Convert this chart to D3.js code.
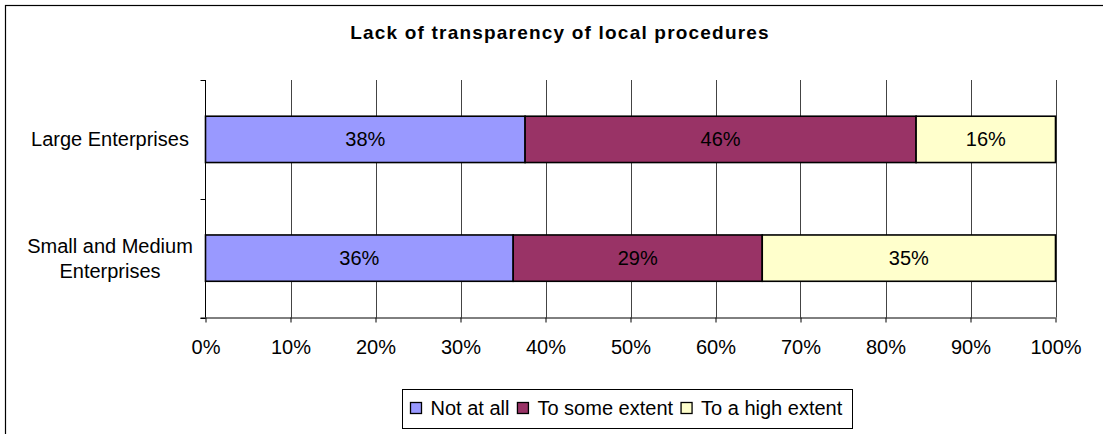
<!DOCTYPE html>
<html><head><meta charset="utf-8">
<script src="https://cdn.jsdelivr.net/npm/d3@7"></script>
<style>body{margin:0;background:#fff}svg{display:block;font-family:"Liberation Sans",Arial,sans-serif}</style>
</head><body><svg id="c" width="1103" height="434"></svg>
<script>
const categories = ["Large Enterprises", "Small and Medium Enterprises"];
const categoryLines = [["Large Enterprises"], ["Small and Medium", "Enterprises"]];
const seriesNames = ["Not at all", "To some extent", "To a high extent"];
const notAtAll = [37.6, 36.2];
const toSomeExtent = [46.0, 29.3];
const toAHighExtent = [16.4, 34.5];
const tickValues = [0,10,20,30,40,50,60,70,80,90,100];
const colors = ["#9999FF", "#993366", "#FFFFCC"];
const title = "Lack of transparency of local procedures";
const FS = 20;

const svg = d3.select("#c");
svg.append("rect").attr("x",5.5).attr("y",5.5).attr("width",1110).attr("height",440)
  .attr("fill","none").attr("stroke","#000").attr("stroke-width",1.2);

svg.append("text").attr("x",560).attr("y",39).attr("text-anchor","middle")
  .attr("font-weight","bold").attr("font-size",19).attr("letter-spacing",1.2).text(title);

const L=205.5, R=1055.5, T=80, B=317.5;
const x = d3.scaleLinear().domain([0,100]).range([L,R]);
const y = d3.scaleBand().domain(categories).range([T,B]).paddingInner(0.61).paddingOuter(0.305);

// gridlines
svg.append("g").selectAll("line").data(tickValues.slice(1)).join("line")
  .attr("x1",d=>Math.round(x(d))+0.5).attr("x2",d=>Math.round(x(d))+0.5)
  .attr("y1",T).attr("y2",B).attr("stroke","#444").attr("stroke-width",1);

const series = [notAtAll, toSomeExtent, toAHighExtent];
const stackData = categories.map((c,i)=>{const o={cat:c}; seriesNames.forEach((s,j)=>o[s]=series[j][i]); return o;});
const stacked = d3.stack().keys(seriesNames)(stackData);

const g = svg.append("g");
stacked.forEach((layer,j)=>{
  g.selectAll(null).data(layer).join("rect")
    .attr("x",d=>x(d[0])).attr("width",d=>x(d[1])-x(d[0]))
    .attr("y",d=>y(d.data.cat)).attr("height",y.bandwidth())
    .attr("fill",colors[j]).attr("stroke","#000").attr("stroke-width",1.6);
  g.selectAll(null).data(layer).join("text")
    .attr("x",d=>(x(d[0])+x(d[1]))/2).attr("y",d=>y(d.data.cat)+y.bandwidth()/2+7)
    .attr("text-anchor","middle").attr("font-size",FS).attr("fill","#000")
    .text(d=>Math.round(d[1]-d[0])+"%");
});

// x axis
const xa = svg.append("g").attr("transform",`translate(0,${B})`)
  .call(d3.axisBottom(x).tickValues(tickValues).tickFormat(d=>d+"%").tickSize(5).tickPadding(17));
xa.select(".domain").attr("d",`M${L-5},0.5H${R}`).attr("stroke","#000");
xa.selectAll(".tick line").attr("stroke","#000");
xa.selectAll("text").attr("font-size",FS).attr("fill","#000").attr("font-family","Liberation Sans, Arial, sans-serif");

// y axis
svg.append("line").attr("x1",L).attr("x2",L).attr("y1",T).attr("y2",B).attr("stroke","#000");
[T, (T+B)/2, B].forEach(v=>svg.append("line").attr("x1",L-5).attr("x2",L).attr("y1",Math.round(v)+0.5).attr("y2",Math.round(v)+0.5).attr("stroke","#000"));

categories.forEach((c,i)=>{
  const lines = categoryLines[i];
  const cy = y(c)+y.bandwidth()/2;
  const lh = 25;
  lines.forEach((t,k)=>{
    svg.append("text").attr("x",110).attr("y",cy + (k-(lines.length-1)/2)*lh + 7)
      .attr("text-anchor","middle").attr("font-size",FS).text(t);
  });
});

// legend
const lg = svg.append("g");
lg.append("rect").attr("x",402.5).attr("y",389.5).attr("width",450).attr("height",39)
  .attr("fill","#fff").attr("stroke","#000");
let lx = 410.5;
seriesNames.forEach((s,j)=>{
  lg.append("rect").attr("x",lx).attr("y",402.5).attr("width",11).attr("height",11)
    .attr("fill",colors[j]).attr("stroke","#000").attr("stroke-width",1.3);
  const t = lg.append("text").attr("x",lx+20).attr("y",414.5).attr("font-size",FS).text(s);
  lx += 20 + t.node().getComputedTextLength() + 8;
});
</script></body></html>
